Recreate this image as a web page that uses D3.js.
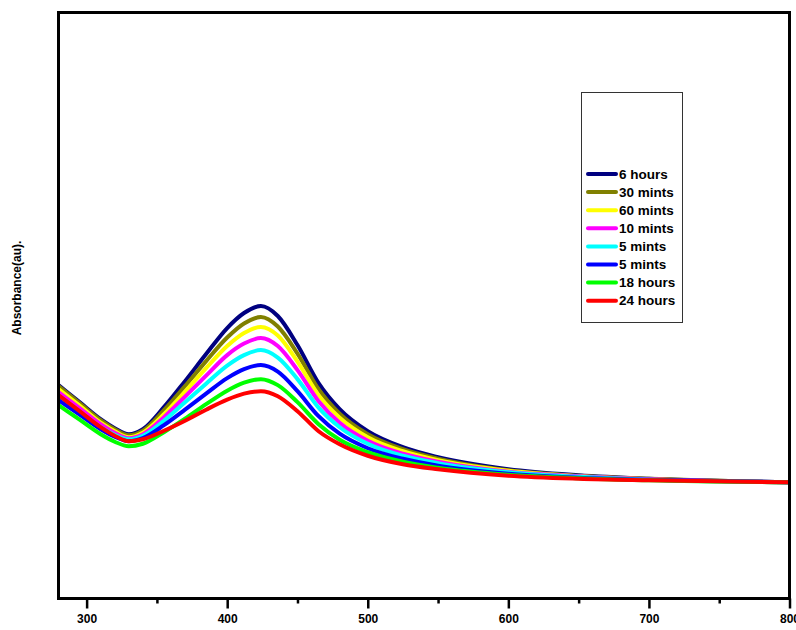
<!DOCTYPE html>
<html>
<head>
<meta charset="utf-8">
<script src="https://cdn.jsdelivr.net/npm/d3@7"></script>
<style>
  body { margin: 0; background: #fff; }
  svg { display: block; font-family: Arial, "Liberation Sans", sans-serif; }
</style>
</head>
<body>
<svg width="796" height="630"></svg>
<script>
// wavelength (nm)
var wavelengths = [280, 295, 310, 320, 330, 340, 355, 370, 385, 400, 412, 424, 436, 450, 465, 480, 500, 525, 550, 600, 650, 700, 800];

// absorbance readings (au), one array per sample
var hours6  = [0.426, 0.392, 0.358, 0.340, 0.328, 0.338, 0.382, 0.434, 0.488, 0.540, 0.570, 0.584, 0.564, 0.506, 0.430, 0.378, 0.334, 0.302, 0.282, 0.258, 0.246, 0.239, 0.232];
var mints30 = [0.424, 0.390, 0.356, 0.338, 0.326, 0.335, 0.376, 0.424, 0.474, 0.521, 0.549, 0.562, 0.543, 0.489, 0.418, 0.369, 0.328, 0.298, 0.279, 0.256, 0.245, 0.239, 0.232];
var mints60 = [0.418, 0.385, 0.351, 0.334, 0.322, 0.331, 0.368, 0.413, 0.460, 0.504, 0.530, 0.542, 0.525, 0.473, 0.406, 0.361, 0.322, 0.294, 0.276, 0.255, 0.244, 0.238, 0.232];
var mints10 = [0.412, 0.380, 0.348, 0.331, 0.320, 0.328, 0.362, 0.403, 0.445, 0.486, 0.509, 0.520, 0.504, 0.456, 0.394, 0.351, 0.315, 0.289, 0.273, 0.253, 0.244, 0.238, 0.232];
var mints5a = [0.402, 0.372, 0.342, 0.327, 0.318, 0.325, 0.355, 0.392, 0.429, 0.465, 0.486, 0.496, 0.481, 0.438, 0.381, 0.342, 0.309, 0.285, 0.270, 0.252, 0.243, 0.237, 0.232];
var mints5b = [0.396, 0.367, 0.338, 0.323, 0.314, 0.320, 0.346, 0.377, 0.409, 0.440, 0.458, 0.466, 0.453, 0.414, 0.364, 0.329, 0.300, 0.279, 0.265, 0.249, 0.241, 0.237, 0.232];
var hours18 = [0.386, 0.357, 0.328, 0.313, 0.304, 0.309, 0.332, 0.359, 0.388, 0.415, 0.431, 0.438, 0.426, 0.392, 0.348, 0.317, 0.292, 0.273, 0.261, 0.247, 0.240, 0.236, 0.232];
var hours24 = [0.406, 0.374, 0.342, 0.325, 0.314, 0.318, 0.335, 0.355, 0.377, 0.397, 0.409, 0.414, 0.404, 0.374, 0.334, 0.308, 0.285, 0.268, 0.258, 0.245, 0.239, 0.236, 0.232];

var labels = ["6 hours", "30 mints", "60 mints", "10 mints", "5 mints", "5 mints", "18 hours", "24 hours"];
var colors = ["#000080", "#808000", "#ffff00", "#ff00ff", "#00ffff", "#0000ff", "#00ff00", "#ff0000"];
var xTicks = [300, 400, 500, 600, 700, 800];
var xMinorTicks = [350, 450, 550, 650, 750];

var allSeries = [hours6, mints30, mints60, mints10, mints5a, mints5b, hours18, hours24];

var plotL = 58.5, plotR = 789.5, plotT = 12.5, plotB = 598.5;

var svg = d3.select('svg');

var x = d3.scaleLinear().domain([280, 800]).range([plotL, plotR]);
var y = d3.scaleLinear().domain([0, 1.17]).range([plotB, plotT]);

svg.append('defs').append('clipPath').attr('id', 'plotclip')
    .append('rect')
    .attr('x', plotL).attr('y', plotT)
    .attr('width', plotR - plotL).attr('height', plotB - plotT);

var line = d3.line()
    .x(function(d) { return x(d[0]); })
    .y(function(d) { return y(d[1]); })
    .curve(d3.curveMonotoneX);

svg.append('g').attr('clip-path', 'url(#plotclip)')
    .selectAll('path')
    .data(allSeries)
    .enter()
    .append('path')
    .attr('fill', 'none')
    .attr('stroke', function(d, i) { return colors[i]; })
    .attr('stroke-width', 4)
    .attr('stroke-linejoin', 'round')
    .attr('d', function(s) {
        return line(s.map(function(v, i) { return [wavelengths[i], v]; }));
    });

// frame
svg.append('rect')
    .attr('x', plotL).attr('y', plotT)
    .attr('width', plotR - plotL).attr('height', plotB - plotT)
    .attr('fill', 'none')
    .attr('stroke', '#000')
    .attr('stroke-width', 3);

// bottom axis
var xAxis = svg.append('g')
    .attr('transform', 'translate(0,' + plotB + ')')
    .call(d3.axisBottom(x).tickValues(xTicks).tickSize(10).tickPadding(6).tickFormat(d3.format('d')));
xAxis.select('.domain').remove();
xAxis.selectAll('line').attr('stroke-width', 2.5);
xAxis.selectAll('text')
    .attr('font-size', 12)
    .attr('font-weight', 'bold')
    .attr('font-family', 'Arial, "Liberation Sans", sans-serif')
    .attr('fill', '#000');

var xMinor = svg.append('g')
    .attr('transform', 'translate(0,' + plotB + ')')
    .call(d3.axisBottom(x).tickValues(xMinorTicks).tickSize(5).tickFormat(''));
xMinor.select('.domain').remove();
xMinor.selectAll('line').attr('stroke-width', 2.5);

// y label
svg.append('text')
    .attr('transform', 'translate(21,288) rotate(-90)')
    .attr('text-anchor', 'middle')
    .attr('font-size', 12)
    .attr('font-weight', 'bold')
    .text('Absorbance(au).');

// legend
var legend = svg.append('g');
legend.append('rect')
    .attr('x', 581.5).attr('y', 92.5)
    .attr('width', 101).attr('height', 230)
    .attr('fill', '#fff')
    .attr('stroke', '#333')
    .attr('stroke-width', 1);

var items = legend.selectAll('g.item')
    .data(labels)
    .enter()
    .append('g')
    .attr('class', 'item')
    .attr('transform', function(d, i) { return 'translate(0,' + (174 + i * 18.1) + ')'; });
items.append('line')
    .attr('x1', 588).attr('x2', 616)
    .attr('stroke', function(d, i) { return colors[i]; })
    .attr('stroke-width', 4)
    .attr('stroke-linecap', 'round');
items.append('text')
    .attr('x', 619)
    .attr('dy', '0.35em')
    .attr('font-size', 13.5)
    .attr('font-weight', 'bold')
    .text(function(d) { return d; });
</script>
</body>
</html>
